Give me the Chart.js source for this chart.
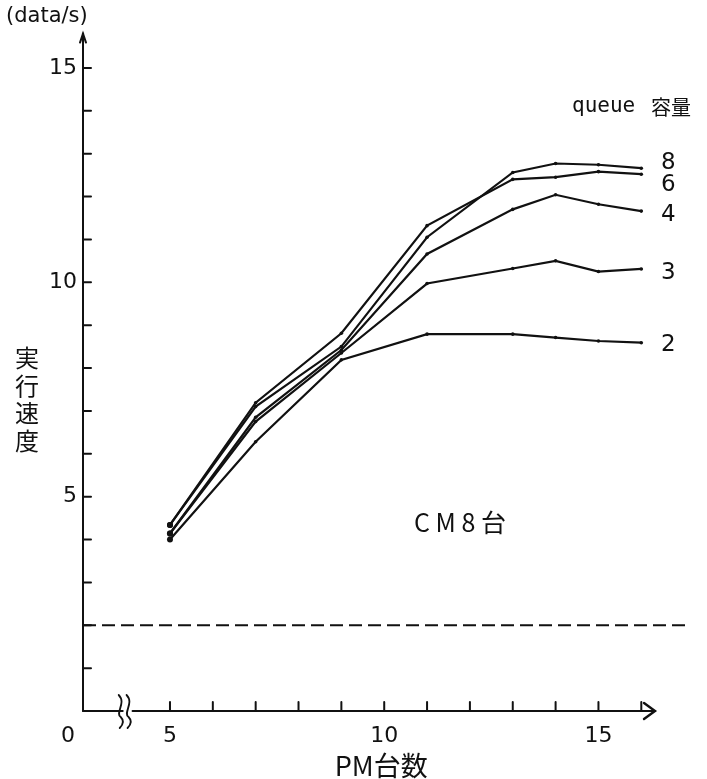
<!DOCTYPE html>
<html>
<head>
<meta charset="utf-8">
<script src="https://cdn.jsdelivr.net/npm/chart.js@4"></script>
<style>
  html, body { margin: 0; padding: 0; background: #fff; }
  #wrap { width: 707px; height: 779px; }
</style>
</head>
<body>
<div id="wrap"><canvas id="chart" width="707" height="779"></canvas></div>
<script>
// PM count on the x axis
const pmCounts = [5, 7, 9, 11, 13, 14, 15, 16];
// execution speed (data/s) per queue size
const queue2 = [4.00, 6.28, 8.19, 8.79, 8.79, 8.71, 8.63, 8.59];
const queue3 = [4.14, 6.75, 8.35, 9.97, 10.32, 10.50, 10.25, 10.31];
const queue4 = [4.14, 6.85, 8.42, 10.66, 11.70, 12.04, 11.82, 11.66];
const queue6 = [4.34, 7.19, 8.81, 11.32, 12.40, 12.45, 12.58, 12.52];
const queue8 = [4.34, 7.10, 8.50, 11.05, 12.56, 12.77, 12.74, 12.66];
const queueLabels = ['2', '3', '4', '6', '8'];
// dashed reference level
const dashedLevel = 2;
const dashedSpan = [2.97, 17.05];
// tick labels
const xTickLabels = [5, 10, 15];
const yTickLabels = [5, 10, 15];
const xMinorTicks = [5, 6, 7, 8, 9, 10, 11, 12, 13, 14, 15, 16];
const yMinorTicks = [1, 2, 3, 4, 5, 6, 7, 8, 9, 10, 11, 12, 13, 14, 15];

const allSeries = [queue2, queue3, queue4, queue6, queue8];
// nudges for the end labels so 8 and 6 don't collide (pixels)
const labelNudge = [2, 4, 4, 11, -5];

function toPoints(vals) {
    return vals.map((v, i) => ({ x: pmCounts[i], y: v }));
}

const datasets = allSeries.map((vals, i) => ({
    label: queueLabels[i],
    data: toPoints(vals),
    borderColor: '#111',
    backgroundColor: '#111',
    borderWidth: 2.2,
    pointRadius: ctx => (ctx.dataIndex === 0 ? 3 : 1.8),
    pointBorderWidth: 0,
    tension: 0,
    fill: false
}));

datasets.push({
    label: 'level',
    data: dashedSpan.map(x => ({ x: x, y: dashedLevel })),
    borderColor: '#111',
    borderWidth: 2,
    borderDash: [13, 6],
    pointRadius: 0,
    fill: false
});

const handDrawn = {
    id: 'handDrawn',
    afterDraw(chart) {
        const ctx = chart.ctx;
        const xs = chart.scales.x, ys = chart.scales.y;
        const X = v => xs.getPixelForValue(v);
        const Y = v => ys.getPixelForValue(v);
        const x0 = chart.chartArea.left, y0 = Y(0);
        ctx.save();
        ctx.strokeStyle = '#111';
        ctx.fillStyle = '#111';
        ctx.lineWidth = 2;
        ctx.lineCap = 'round';

        // y axis with arrow
        const yTop = Y(15.8);
        ctx.beginPath();
        ctx.moveTo(x0, y0);
        ctx.lineTo(x0, yTop);
        ctx.stroke();
        ctx.beginPath();
        ctx.moveTo(x0 - 3, yTop + 9);
        ctx.lineTo(x0, yTop);
        ctx.lineTo(x0 + 3, yTop + 9);
        ctx.stroke();
        yMinorTicks.forEach(v => {
            ctx.beginPath();
            ctx.moveTo(x0, Y(v));
            ctx.lineTo(x0 + 8, Y(v));
            ctx.stroke();
        });

        // x axis with break and arrow
        const xEnd = X(16.32);
        const b1 = X(3.85), b2 = X(4.15);
        ctx.beginPath();
        ctx.moveTo(x0, y0);
        ctx.lineTo(b1 + 2, y0);
        ctx.moveTo(b2 - 1, y0);
        ctx.lineTo(xEnd, y0);
        ctx.stroke();
        ctx.lineWidth = 1.8;
        [b1, b2 - 5].forEach(bx => {
            ctx.beginPath();
            ctx.moveTo(bx - 2, y0 - 16);
            ctx.bezierCurveTo(bx + 6, y0 - 8, bx - 6, y0 + 2, bx, y0 + 6);
            ctx.bezierCurveTo(bx + 4, y0 + 10, bx + 2, y0 + 14, bx - 1, y0 + 17);
            ctx.stroke();
        });
        ctx.lineWidth = 2.4;
        ctx.beginPath();
        ctx.moveTo(xEnd - 11, y0 - 8);
        ctx.lineTo(xEnd, y0);
        ctx.lineTo(xEnd - 11, y0 + 8);
        ctx.stroke();
        ctx.lineWidth = 2;
        xMinorTicks.forEach(v => {
            ctx.beginPath();
            ctx.moveTo(X(v), y0);
            ctx.lineTo(X(v), y0 - 9);
            ctx.stroke();
        });

        // tick labels
        ctx.font = '22px "DejaVu Sans"';
        ctx.textBaseline = 'middle';
        ctx.textAlign = 'right';
        yTickLabels.forEach(v => ctx.fillText(String(v), x0 - 6, Y(v)));
        ctx.textAlign = 'center';
        xTickLabels.forEach(v => ctx.fillText(String(v), X(v), y0 + 25));
        ctx.fillText('0', x0 - 15, y0 + 25);

        // axis titles
        ctx.font = '27px "Noto Sans CJK JP"';
        ctx.fillText('PM台数', X(10) - 3, y0 + 55);
        ctx.font = '24px "Noto Sans CJK JP"';
        ['実', '行', '速', '度'].forEach((ch, i) => ctx.fillText(ch, 27, 358 + i * 27.5));
        ctx.font = '21px "DejaVu Sans"';
        ctx.textAlign = 'left';
        ctx.fillText('(data/s)', 6, 17);

        // legend heading and end labels
        ctx.font = '21px "DejaVu Sans Mono"';
        ctx.fillText('queue', 572, 107);
        ctx.font = '20px "Noto Sans CJK JP"';
        ctx.fillText('容量', 651, 107);
        ctx.font = '23px "DejaVu Sans"';
        allSeries.forEach((vals, i) => {
            ctx.fillText(queueLabels[i], 661, Y(vals[vals.length - 1]) + labelNudge[i]);
        });

        // annotation
        ctx.font = '25px "Noto Sans CJK JP"';
        ctx.fillText('C M 8 台', 414, 522);
        ctx.restore();
    }
};

new Chart(document.getElementById('chart'), {
    type: 'line',
    data: { datasets: datasets },
    options: {
        responsive: false,
        animation: false,
        layout: { padding: { left: 83, right: 10, top: 25, bottom: 68 } },
        plugins: { legend: { display: false }, tooltip: { enabled: false } },
        scales: {
            x: { type: 'linear', min: 2.97, max: 17.3, display: false },
            y: { type: 'linear', min: 0, max: 16, display: false }
        }
    },
    plugins: [handDrawn]
});
</script>
</body>
</html>
